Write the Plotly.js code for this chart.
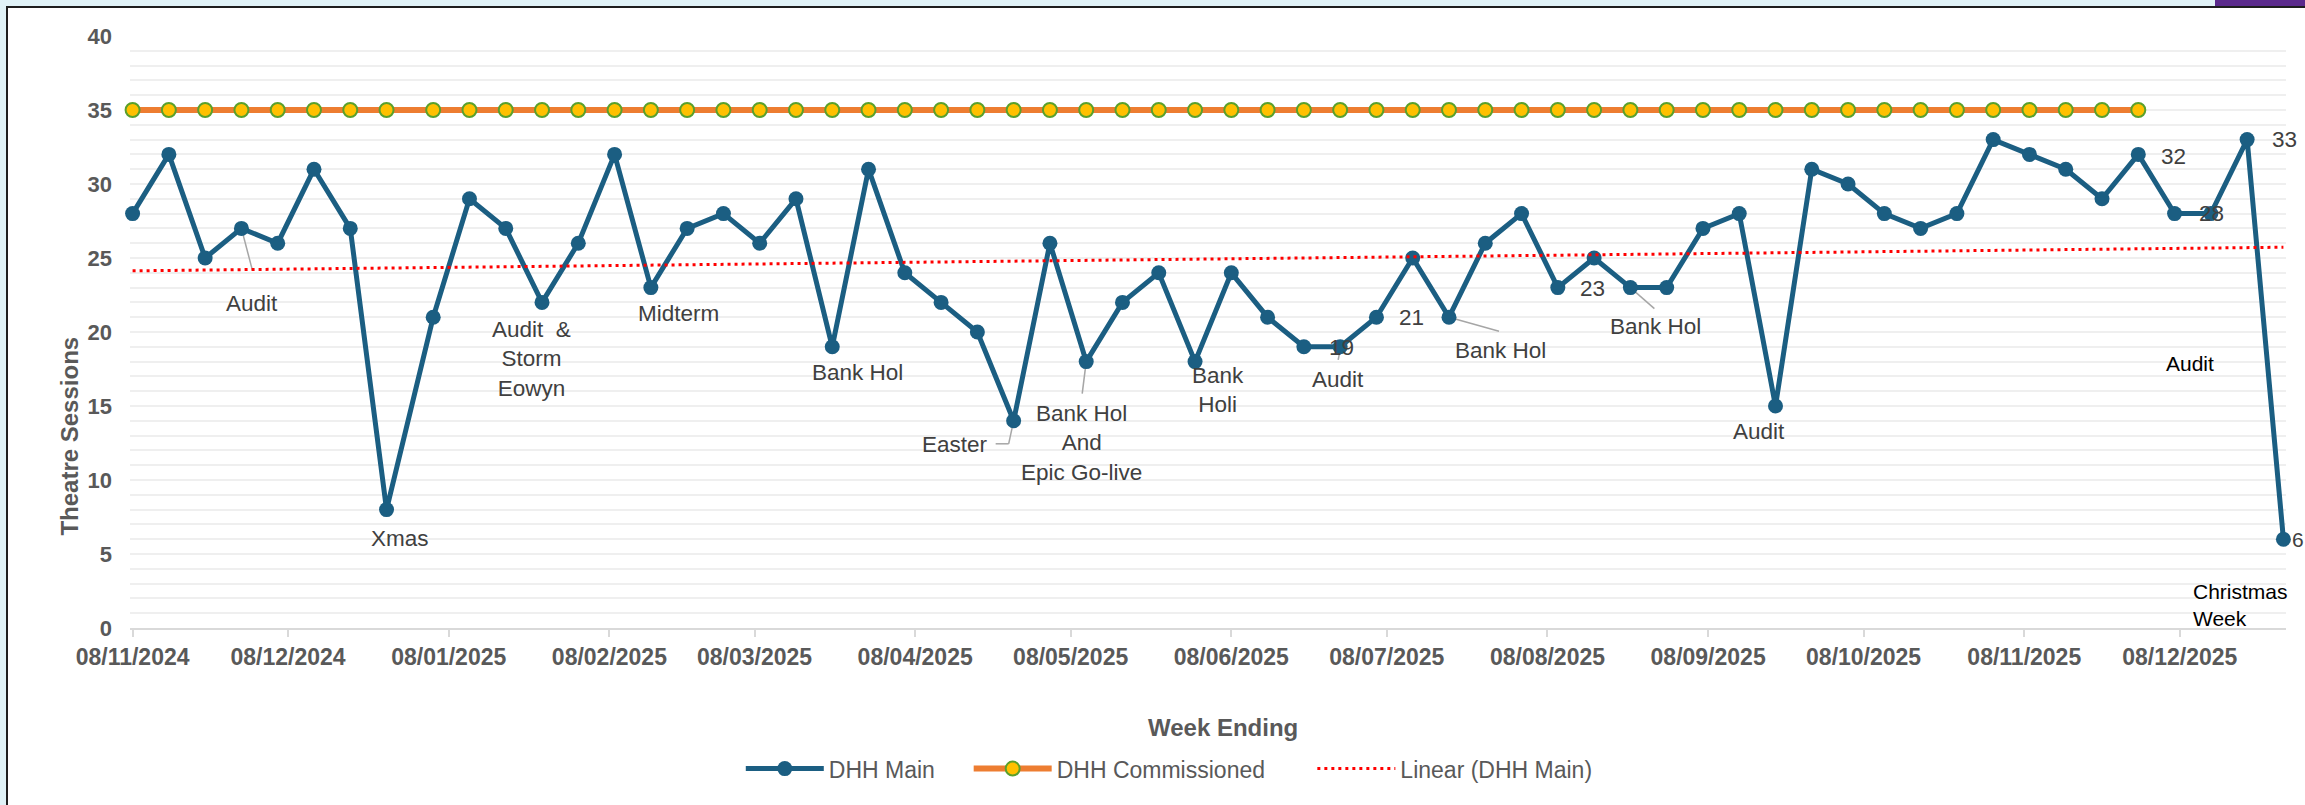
<!DOCTYPE html>
<html>
<head>
<meta charset="utf-8">
<script src="https://cdn.plot.ly/plotly-3.0.1.min.js"></script>
<style>
  html, body { margin:0; padding:0; }
  body { width:2305px; height:805px; background:#e0f2f7; position:relative; overflow:hidden; }
  #frame { position:absolute; left:6px; top:6px; width:2299px; height:799px; background:#ffffff;
           border-left:2px solid #1e1e1e; border-top:2px solid #1e1e1e; box-sizing:border-box; }
  #purple { position:absolute; left:2215px; top:0; width:90px; height:6px; background:#5b2a8c; }
  #chart { position:absolute; left:0; top:0; width:2305px; height:805px; }
</style>
</head>
<body>
<div id="frame"></div>
<div id="purple"></div>
<div id="chart"></div>
<script>
// ---------------- DATA ----------------
const weekEnding = [
  '2024-11-08','2024-11-15','2024-11-22','2024-11-29','2024-12-06','2024-12-13','2024-12-20','2024-12-27',
  '2025-01-05','2025-01-12','2025-01-19','2025-01-26','2025-02-02','2025-02-09','2025-02-16','2025-02-23',
  '2025-03-02','2025-03-09','2025-03-16','2025-03-23','2025-03-30','2025-04-06','2025-04-13','2025-04-20',
  '2025-04-27','2025-05-04','2025-05-11','2025-05-18','2025-05-25','2025-06-01','2025-06-08','2025-06-15',
  '2025-06-22','2025-06-29','2025-07-06','2025-07-13','2025-07-20','2025-07-27','2025-08-03','2025-08-10',
  '2025-08-17','2025-08-24','2025-08-31','2025-09-07','2025-09-14','2025-09-21','2025-09-28','2025-10-05',
  '2025-10-12','2025-10-19','2025-10-26','2025-11-02','2025-11-09','2025-11-16','2025-11-23','2025-11-30',
  '2025-12-07','2025-12-14','2025-12-21','2025-12-28'
];
const dhhMain = [
  28,32,25,27,26,31,27,8,
  21,29,27,22,26,32,23,27,
  28,26,29,19,31,24,22,20,
  14,26,18,22,24,18,24,21,
  19,19,21,25,21,26,28,23,
  25,23,23,27,28,15,31,30,
  28,27,28,33,32,31,29,32,
  28,28,33,6
];
const dhhCommissioned = [
  35,35,35,35,35,35,35,35,
  35,35,35,35,35,35,35,35,
  35,35,35,35,35,35,35,35,
  35,35,35,35,35,35,35,35,
  35,35,35,35,35,35,35,35,
  35,35,35,35,35,35,35,35,
  35,35,35,35,35,35,35,35
];
const tickDates = [
  '2024-11-08','2024-12-08','2025-01-08','2025-02-08','2025-03-08','2025-04-08','2025-05-08',
  '2025-06-08','2025-07-08','2025-08-08','2025-09-08','2025-10-08','2025-11-08','2025-12-08'
];
const seriesNames = ['DHH Main', 'DHH Commissioned', 'Linear (DHH Main)'];
const axisTitles = { x: 'Week Ending', y: 'Theatre Sessions' };

// data labels: point index + text
const labelPoint = [3, 7, 11, 14, 19, 24, 26, 29, 33, 33, 36, 36, 39, 41, 45, 55, 57, 58, 59, 57, 59];
const labelText  = ['Audit', 'Xmas', 'Audit\u00a0 &<br>Storm<br>Eowyn', 'Midterm', 'Bank Hol', 'Easter',
  'Bank Hol<br>And<br>Epic Go-live', 'Bank<br>Holi', '19', 'Audit', '21', 'Bank Hol', '23', 'Bank Hol',
  'Audit', '32', '28', '33', '6', 'Audit', 'Christmas<br>Week'];

// ---------------- LINEAR TREND (least squares on DHH Main) ----------------
const tx = weekEnding.map(d => new Date(d + 'T00:00:00Z').getTime());
const n = tx.length;
const mx = tx.reduce((a,b)=>a+b,0)/n, my = dhhMain.reduce((a,b)=>a+b,0)/n;
let sxy = 0, sxx = 0;
for (let i=0;i<n;i++){ sxy += (tx[i]-mx)*(dhhMain[i]-my); sxx += (tx[i]-mx)*(tx[i]-mx); }
const slope = sxy/sxx, icpt = my - slope*mx;
const trendX = [weekEnding[0], weekEnding[n-1]];
const trendY = [icpt + slope*tx[0], icpt + slope*tx[n-1]];

// ---------------- STYLE / LAYOUT ----------------
const FONT = 'Liberation Sans, Arial, sans-serif';
const GRAY_TXT = '#404040', AXIS_TXT = '#595959';

// per-label placement (pixel offsets from the point: dx right, dy down), colour, anchor
const labelStyle = [
  {dx:11, dy:75}, {dx:13, dy:29}, {dx:-11, dy:57}, {dx:28, dy:26}, {dx:25, dy:26}, {dx:-59, dy:24},
  {dx:-5, dy:81}, {dx:23, dy:28}, {dx:1, dy:1}, {dx:-2, dy:33}, {dx:-38, dy:0}, {dx:51, dy:33},
  {dx:35, dy:1}, {dx:25, dy:39}, {dx:-17, dy:25}, {dx:35, dy:2}, {dx:1, dy:0}, {dx:37, dy:0},
  {dx:7, dy:0, xa:'left', s:21}, {dx:-21, dy:150, c:'#000000'}, {dx:-92, dy:66, xa:'left', c:'#000000'}
];
// leader lines: [pointIndex, x0,y0,x1,y1] pixel offsets
const leaders = [
  [3, 0,0, 11,42], [24, 0,0, -5,23], [24, -5,23, -18,23], [26, 0,0, -4,32],
  [33, 0,3, -2,13], [36, 0,0, 50,14], [41, 0,0, 24,21]
];

const annotations = labelPoint.map((p, k) => {
  const s = labelStyle[k];
  return {
    x: weekEnding[p], y: dhhMain[p], xref:'x', yref:'y',
    text: labelText[k], showarrow:false,
    xanchor: s.xa || 'center', yanchor:'middle', align: s.xa || 'center',
    xshift: s.dx, yshift: -s.dy,
    font: {family: FONT, size: s.s || (s.c ? 21 : 22.5), color: s.c || GRAY_TXT}
  };
});
// axis titles as annotations (exact placement)
annotations.push({
  xref:'paper', yref:'paper', x:0.5071, y:-0.168, text: axisTitles.x, showarrow:false,
  xanchor:'center', yanchor:'middle',
  font:{family: FONT, size:24, color: AXIS_TXT, weight:'bold'}
});
annotations.push({
  xref:'paper', yref:'paper', x:-0.0281, y:0.324, text: axisTitles.y, showarrow:false,
  xanchor:'center', yanchor:'middle', textangle:-90,
  font:{family: FONT, size:24, color: AXIS_TXT, weight:'bold'}
});

const shapes = leaders.map(L => ({
  type:'line', layer:'between',
  xref:'x', yref:'y', xsizemode:'pixel', ysizemode:'pixel',
  xanchor: weekEnding[L[0]], yanchor: dhhMain[L[0]],
  x0: L[1], y0: -L[2], x1: L[3], y1: -L[4],
  line:{color:'#a6a6a6', width:1.5}
}));

const traces = [
  {
    x: weekEnding, y: dhhMain, name: seriesNames[0], type:'scatter', mode:'lines+markers',
    line:{color:'#1b5e82', width:5}, marker:{color:'#1b5e82', size:15},
    cliponaxis:false, legend:'legend'
  },
  {
    x: weekEnding.slice(0, dhhCommissioned.length), y: dhhCommissioned, name: seriesNames[1],
    type:'scatter', mode:'lines+markers',
    line:{color:'#ed7d31', width:6},
    marker:{color:'#ffc000', size:14, line:{color:'#5aa02c', width:2}},
    cliponaxis:false, legend:'legend2'
  },
  {
    x: trendX, y: trendY, name: seriesNames[2], type:'scatter', mode:'lines',
    line:{color:'#ff0000', width:3, dash:'3px,4px'}, cliponaxis:false, legend:'legend3'
  }
];

const legendBase = {
  orientation:'h', xanchor:'left', y:-0.2376, yanchor:'middle',
  font:{family: FONT, size:23, color: AXIS_TXT}, itemwidth:78, bgcolor:'rgba(0,0,0,0)'
};

const layout = {
  width:2305, height:805,
  margin:{l:130, r:19, t:36, b:177, pad:0},
  paper_bgcolor:'rgba(0,0,0,0)', plot_bgcolor:'rgba(0,0,0,0)',
  font:{family: FONT, color: AXIS_TXT},
  showlegend:true,
  legend:  Object.assign({}, legendBase, {x:0.2833}),
  legend2: Object.assign({}, legendBase, {x:0.3890}),
  legend3: Object.assign({}, legendBase, {x:0.5484}),
  hovermode:false,
  xaxis:{
    type:'date', range:['2024-11-07 12:00', '2025-12-28 12:00'],
    tickvals: tickDates, tickformat:'%d/%m/%Y',
    ticks:'outside', ticklen:7, tickwidth:2, tickcolor:'#d9d9d9',
    showline:true, linecolor:'#d9d9d9', linewidth:2,
    showgrid:false, zeroline:false,
    tickfont:{family: FONT, size:23, color: AXIS_TXT, weight:'bold'},
    ticklabelstandoff: 0
  },
  yaxis:{
    range:[0,40], tick0:0, dtick:5,
    showgrid:true, gridcolor:'#efefef', gridwidth:2,
    minor:{dtick:1, showgrid:true, gridcolor:'#efefef', gridwidth:2},
    zeroline:false, showline:false, ticks:'',
    tickfont:{family: FONT, size:22, color: AXIS_TXT, weight:'bold'},
    ticklabelstandoff: 17
  },
  annotations: annotations,
  shapes: shapes
};

Plotly.newPlot('chart', traces, layout, {staticPlot:true, displayModeBar:false});
</script>
</body>
</html>
